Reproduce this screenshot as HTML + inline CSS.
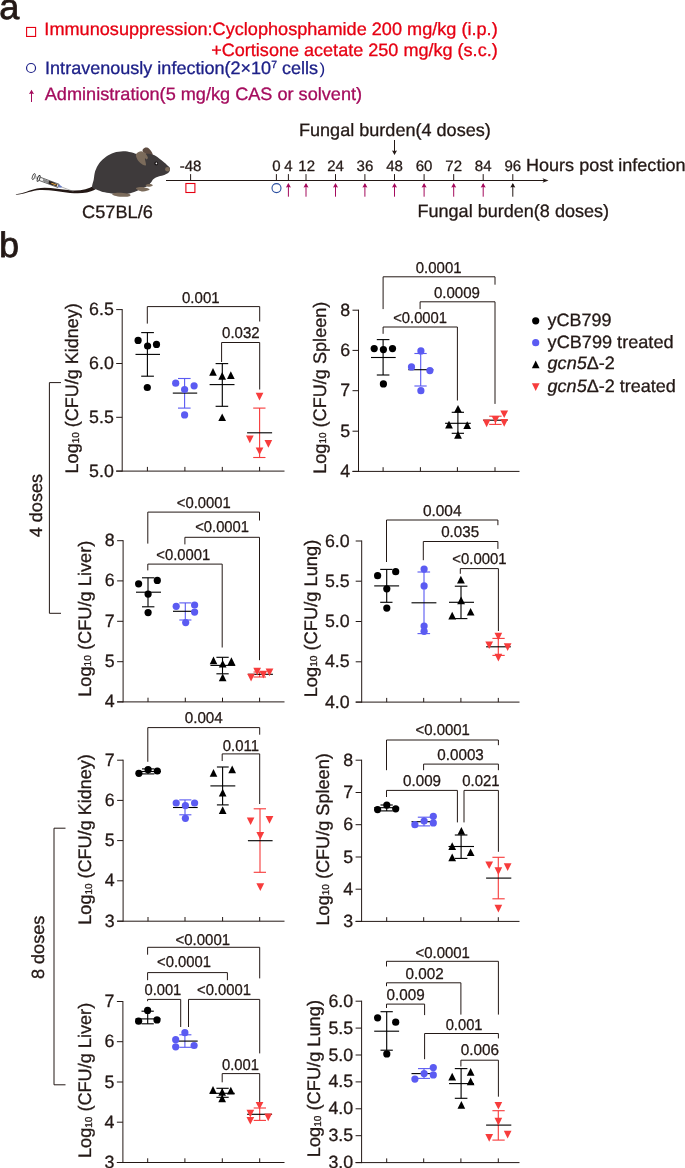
<!DOCTYPE html>
<html lang="en">
<head>
<meta charset="utf-8">
<title>Figure: murine systemic infection model and fungal burden</title>
<style>
html,body{margin:0;padding:0;background:#fff;}
body{width:685px;height:1168px;overflow:hidden;}
svg{display:block;font-family:'Liberation Sans', sans-serif;text-rendering:geometricPrecision;will-change:transform;}
text{stroke-width:0.3px;paint-order:stroke;stroke-linejoin:round;}
</style>
</head>
<body>
<svg width="685" height="1168" viewBox="0 0 685 1168">
<rect x="0" y="0" width="685" height="1168" fill="#ffffff"/>
<g id="panel-a">
<text x="-0.70" y="18.5" font-size="36" fill="#231815" stroke="#231815" style="stroke-width:0.8px">a</text>
<rect x="26.6" y="27.45" width="9.0" height="9.0" fill="none" stroke="#e60012" stroke-width="1.1"/>
<text x="44.39" y="34.8" font-size="17.9" fill="#e60012" stroke="#e60012" textLength="453.3" lengthAdjust="spacingAndGlyphs">Immunosuppression:Cyclophosphamide 200 mg/kg (i.p.)</text>
<text x="211.19" y="56.4" font-size="17.9" fill="#e60012" stroke="#e60012" textLength="286.5" lengthAdjust="spacingAndGlyphs">+Cortisone acetate 250 mg/kg (s.c.)</text>
<circle cx="31.05" cy="68.0" r="4.5" fill="none" stroke="#1d2088" stroke-width="1.2"/>
<text x="45.09" y="74.4" font-size="17.9" fill="#1d2088" stroke="#1d2088" textLength="273.0" lengthAdjust="spacingAndGlyphs">Intravenously infection(2×10<tspan font-size="10.4" dy="-6.0">7</tspan><tspan dy="6.0"> cells</tspan></text>
<text x="319.48" y="74.4" font-size="16" fill="#1d2088" stroke="#1d2088" textLength="5.7" lengthAdjust="spacingAndGlyphs" style="stroke-width:0">)</text>
<line x1="31.50" y1="90.70" x2="31.50" y2="102.00" stroke="#a40b5d" stroke-width="1.0"/>
<path d="M31.50 89.70 L29.00 94.10 L31.50 93.60 L34.00 94.10 Z" fill="#a40b5d"/>
<text x="44.79" y="99.7" font-size="17.9" fill="#a40b5d" stroke="#a40b5d" textLength="317.3" lengthAdjust="spacingAndGlyphs">Administration(5 mg/kg CAS or solvent)</text>
<line x1="166.00" y1="180.50" x2="545.00" y2="180.50" stroke="#231815" stroke-width="1.0"/>
<path d="M548.5 180.5 L542.5 178.3 L544 180.5 L542.5 182.7 Z" fill="#231815"/>
<line x1="190.60" y1="174.10" x2="190.60" y2="180.50" stroke="#231815" stroke-width="1.0"/>
<line x1="276.40" y1="174.10" x2="276.40" y2="180.50" stroke="#231815" stroke-width="1.0"/>
<line x1="288.40" y1="174.10" x2="288.40" y2="180.50" stroke="#231815" stroke-width="1.0"/>
<line x1="306.00" y1="174.10" x2="306.00" y2="180.50" stroke="#231815" stroke-width="1.0"/>
<line x1="335.50" y1="174.10" x2="335.50" y2="180.50" stroke="#231815" stroke-width="1.0"/>
<line x1="364.90" y1="174.10" x2="364.90" y2="180.50" stroke="#231815" stroke-width="1.0"/>
<line x1="394.50" y1="174.10" x2="394.50" y2="180.50" stroke="#231815" stroke-width="1.0"/>
<line x1="424.10" y1="174.10" x2="424.10" y2="180.50" stroke="#231815" stroke-width="1.0"/>
<line x1="453.70" y1="174.10" x2="453.70" y2="180.50" stroke="#231815" stroke-width="1.0"/>
<line x1="483.20" y1="174.10" x2="483.20" y2="180.50" stroke="#231815" stroke-width="1.0"/>
<line x1="512.80" y1="174.10" x2="512.80" y2="180.50" stroke="#231815" stroke-width="1.0"/>
<text x="190.60" y="170.7" font-size="15.0" fill="#231815" stroke="#231815" text-anchor="middle">-48</text>
<text x="276.40" y="170.7" font-size="15.0" fill="#231815" stroke="#231815" text-anchor="middle">0</text>
<text x="288.40" y="170.7" font-size="15.0" fill="#231815" stroke="#231815" text-anchor="middle">4</text>
<text x="306.70" y="170.7" font-size="15.0" fill="#231815" stroke="#231815" text-anchor="middle">12</text>
<text x="335.50" y="170.7" font-size="15.0" fill="#231815" stroke="#231815" text-anchor="middle">24</text>
<text x="364.90" y="170.7" font-size="15.0" fill="#231815" stroke="#231815" text-anchor="middle">36</text>
<text x="394.50" y="170.7" font-size="15.0" fill="#231815" stroke="#231815" text-anchor="middle">48</text>
<text x="424.10" y="170.7" font-size="15.0" fill="#231815" stroke="#231815" text-anchor="middle">60</text>
<text x="453.70" y="170.7" font-size="15.0" fill="#231815" stroke="#231815" text-anchor="middle">72</text>
<text x="483.20" y="170.7" font-size="15.0" fill="#231815" stroke="#231815" text-anchor="middle">84</text>
<text x="512.80" y="170.7" font-size="15.0" fill="#231815" stroke="#231815" text-anchor="middle">96</text>
<text x="526.01" y="170.7" font-size="17.6" fill="#231815" stroke="#231815" textLength="159.5" lengthAdjust="spacingAndGlyphs">Hours post infection</text>
<rect x="185.9" y="183.5" width="9.0" height="9.0" fill="none" stroke="#e60012" stroke-width="1.1"/>
<circle cx="276.5" cy="188.1" r="4.5" fill="none" stroke="#2b4fa0" stroke-width="1.1"/>
<line x1="288.40" y1="184.00" x2="288.40" y2="196.70" stroke="#a40b5d" stroke-width="1.0"/>
<path d="M288.40 183.00 L285.90 187.40 L288.40 186.90 L290.90 187.40 Z" fill="#a40b5d"/>
<line x1="306.00" y1="184.00" x2="306.00" y2="196.70" stroke="#a40b5d" stroke-width="1.0"/>
<path d="M306.00 183.00 L303.50 187.40 L306.00 186.90 L308.50 187.40 Z" fill="#a40b5d"/>
<line x1="335.50" y1="184.00" x2="335.50" y2="196.70" stroke="#a40b5d" stroke-width="1.0"/>
<path d="M335.50 183.00 L333.00 187.40 L335.50 186.90 L338.00 187.40 Z" fill="#a40b5d"/>
<line x1="364.90" y1="184.00" x2="364.90" y2="196.70" stroke="#a40b5d" stroke-width="1.0"/>
<path d="M364.90 183.00 L362.40 187.40 L364.90 186.90 L367.40 187.40 Z" fill="#a40b5d"/>
<line x1="394.50" y1="184.00" x2="394.50" y2="196.70" stroke="#a40b5d" stroke-width="1.0"/>
<path d="M394.50 183.00 L392.00 187.40 L394.50 186.90 L397.00 187.40 Z" fill="#a40b5d"/>
<line x1="424.10" y1="184.00" x2="424.10" y2="196.70" stroke="#a40b5d" stroke-width="1.0"/>
<path d="M424.10 183.00 L421.60 187.40 L424.10 186.90 L426.60 187.40 Z" fill="#a40b5d"/>
<line x1="453.70" y1="184.00" x2="453.70" y2="196.70" stroke="#a40b5d" stroke-width="1.0"/>
<path d="M453.70 183.00 L451.20 187.40 L453.70 186.90 L456.20 187.40 Z" fill="#a40b5d"/>
<line x1="483.20" y1="184.00" x2="483.20" y2="196.70" stroke="#a40b5d" stroke-width="1.0"/>
<path d="M483.20 183.00 L480.70 187.40 L483.20 186.90 L485.70 187.40 Z" fill="#a40b5d"/>
<line x1="512.80" y1="184.00" x2="512.80" y2="196.70" stroke="#231815" stroke-width="1.0"/>
<path d="M512.80 183.00 L510.30 187.40 L512.80 186.90 L515.30 187.40 Z" fill="#231815"/>
<text x="298.99" y="136.3" font-size="17.9" fill="#231815" stroke="#231815" textLength="191.8" lengthAdjust="spacingAndGlyphs">Fungal burden(4 doses)</text>
<line x1="394.50" y1="140.00" x2="394.50" y2="153.90" stroke="#231815" stroke-width="1.0"/>
<path d="M394.50 154.90 L392.00 150.50 L394.50 151.00 L397.00 150.50 Z" fill="#231815"/>
<text x="417.49" y="217.4" font-size="17.9" fill="#231815" stroke="#231815" textLength="191.6" lengthAdjust="spacingAndGlyphs">Fungal burden(8 doses)</text>
<text x="82.09" y="218.1" font-size="17.9" fill="#231815" stroke="#231815" textLength="70.7" lengthAdjust="spacingAndGlyphs">C57BL/6</text>
<g id="mouse">
<path d="M15.9 194.2 C24 193.4 29 190.2 37 188.5 C47 186.6 58 189.3 70 190.3 C80 191.0 88 189.6 93.8 185.8 L95.0 189.8 C88 193.2 80 194.0 70 192.9 C58 191.6 47 189.2 37 190.3 C29 191.5 24 194.4 15.9 194.8 Z" fill="#231815"/>
<g transform="translate(33.2 176.4) rotate(20.5)"><ellipse cx="0.5" cy="0" rx="1.2" ry="3.2" fill="#fff" stroke="#333" stroke-width="0.8"/><rect x="1.3" y="-0.7" width="4.2" height="1.4" fill="#ddd" stroke="#666" stroke-width="0.4"/><ellipse cx="5.8" cy="0" rx="1.1" ry="3.1" fill="#fff" stroke="#2a2a2a" stroke-width="0.9"/><rect x="7.0" y="-1.7" width="20.0" height="3.4" fill="#f4f4f4" stroke="#3a3a3a" stroke-width="0.7"/><rect x="10.5" y="-1.3" width="6.0" height="2.6" fill="#8a8a8a"/><rect x="16.5" y="-1.5" width="5.0" height="3.0" fill="#2b2320"/><rect x="18.0" y="-1.2" width="7.5" height="2.4" fill="#2b2320"/><rect x="19.5" y="-0.5" width="5.5" height="1.0" fill="#e8a33a"/><path d="M27 -1.5 L30.5 -0.6 L30.5 0.6 L27 1.5 Z" fill="#6b7fc4"/><line x1="30.5" y1="0" x2="43" y2="0" stroke="#777" stroke-width="0.5"/></g>
<path d="M142.5 150.5 C142.5 149.6 143.5 148.3 144.4 147.9 C145.3 147.4 146.8 147.3 147.8 147.7 C148.9 148.2 149.9 149.3 150.7 150.5 C151.5 151.7 153.0 154.0 152.8 154.7 C152.6 155.4 150.7 154.9 149.4 154.7 C148.0 154.5 145.9 154.1 144.8 153.4 C143.6 152.7 142.6 151.4 142.5 150.5 Z" fill="#5d4b41"/>
<path d="M92.2 187.6 C91.5 185.8 93.2 182.4 93.7 179.7 C94.2 176.9 94.3 173.9 95.2 171.1 C96.2 168.4 97.4 165.7 99.2 163.2 C101.0 160.8 103.6 158.4 106.0 156.7 C108.5 154.9 111.1 153.6 113.9 152.7 C116.8 151.8 120.3 151.4 123.1 151.3 C125.9 151.2 128.4 151.8 131.0 152.3 C133.6 152.9 136.2 154.5 138.9 154.7 C141.5 154.9 144.2 153.6 146.8 153.7 C149.3 153.7 151.6 153.9 154.0 155.0 C156.4 156.0 159.1 158.3 161.2 160.0 C163.3 161.6 165.3 163.3 166.7 164.7 C168.2 166.1 169.5 166.9 169.9 168.1 C170.3 169.3 169.9 171.0 169.1 172.1 C168.3 173.1 166.6 173.9 164.9 174.7 C163.1 175.4 160.5 175.8 158.6 176.5 C156.7 177.2 154.9 177.9 153.6 178.9 C152.3 179.9 151.9 181.4 151.0 182.6 C150.0 183.7 149.2 185.1 147.8 186.0 C146.4 186.9 144.6 187.3 142.8 188.1 C141.1 188.9 139.3 189.9 137.3 190.7 C135.3 191.5 133.1 192.5 131.0 193.1 C128.8 193.7 127.3 194.3 124.4 194.4 C121.6 194.5 117.2 194.1 113.9 193.7 C110.6 193.4 107.3 192.9 104.7 192.3 C102.1 191.7 100.2 191.0 98.1 190.2 C96.1 189.4 93.0 189.3 92.2 187.6 Z" fill="#3e3a3b"/>
<path d="M136.5 153.4 C137.3 152.5 139.7 151.3 141.2 151.3 C142.7 151.3 144.3 152.4 145.4 153.4 C146.5 154.4 147.6 156.3 147.8 157.3 C148.0 158.3 147.2 159.3 146.8 159.4 C146.3 159.6 145.0 157.5 144.9 158.4 C144.8 159.3 146.3 163.9 146.0 165.0 C145.6 166.0 144.0 165.3 142.8 164.7 C141.6 164.1 139.7 162.6 138.6 161.3 C137.5 159.9 136.6 158.0 136.2 156.7 C135.9 155.4 135.7 154.3 136.5 153.4 Z" fill="#7b6b5b"/>
<path d="M112.3 193.7 C113.1 193.2 116.7 192.8 119.2 192.8 C121.6 192.8 125.2 193.2 127.0 193.6 C128.9 193.9 130.2 194.4 130.5 194.9 C130.7 195.4 129.8 196.2 128.4 196.5 C126.9 196.8 124.1 196.9 121.8 196.8 C119.5 196.6 116.1 196.2 114.6 195.7 C113.0 195.2 111.6 194.2 112.3 193.7 Z" fill="#7b6b5b"/>
<path d="M136.0 188.1 C136.5 187.6 139.7 187.0 141.5 187.0 C143.3 187.0 145.4 187.7 146.8 188.1 C148.1 188.5 149.6 189.0 149.6 189.4 C149.6 189.8 147.9 190.4 146.8 190.7 C145.6 191.1 144.2 191.6 142.8 191.5 C141.4 191.4 139.4 190.8 138.2 190.2 C137.1 189.6 135.4 188.6 136.0 188.1 Z" fill="#7b6b5b"/>
<path d="M145.7 184.9 C146.1 184.5 148.2 183.9 149.4 183.9 C150.6 183.9 152.6 184.5 152.8 184.9 C153.0 185.4 151.6 186.2 150.7 186.5 C149.8 186.8 148.1 186.8 147.3 186.5 C146.4 186.2 145.4 185.4 145.7 184.9 Z" fill="#7b6b5b"/>
<ellipse cx="167.5" cy="169.2" rx="2.4" ry="2.2" fill="#7b6b5b"/>
<circle cx="156.2" cy="163.5" r="1.9" fill="#1c1718"/>
<circle cx="156.4" cy="163.4" r="0.8" fill="#fff"/>
</g>
</g>
<g id="panel-b">
<text x="-0.80" y="256.8" font-size="35.5" fill="#231815" stroke="#231815" style="stroke-width:0.8px">b</text>
<g id="p1">
<line x1="147.40" y1="332.60" x2="147.40" y2="376.20" stroke="#000" stroke-width="1.12"/>
<line x1="141.20" y1="332.60" x2="153.90" y2="332.60" stroke="#000" stroke-width="1.12"/>
<line x1="141.20" y1="376.20" x2="153.90" y2="376.20" stroke="#000" stroke-width="1.12"/>
<line x1="135.50" y1="354.40" x2="160.00" y2="354.40" stroke="#000" stroke-width="1.12"/>
<circle cx="138.1" cy="340.4" r="3.6" fill="#000"/>
<circle cx="147.6" cy="346.0" r="3.6" fill="#000"/>
<circle cx="156.5" cy="344.4" r="3.6" fill="#000"/>
<circle cx="147.3" cy="387.5" r="3.6" fill="#000"/>
<line x1="184.60" y1="378.50" x2="184.60" y2="408.10" stroke="#5b5bf2" stroke-width="1.12"/>
<line x1="178.00" y1="378.50" x2="190.60" y2="378.50" stroke="#5b5bf2" stroke-width="1.12"/>
<line x1="178.00" y1="408.10" x2="190.60" y2="408.10" stroke="#5b5bf2" stroke-width="1.12"/>
<line x1="172.80" y1="393.10" x2="197.20" y2="393.10" stroke="#000" stroke-width="1.12"/>
<circle cx="175.7" cy="383.2" r="3.6" fill="#5b5bf2"/>
<circle cx="184.6" cy="389.5" r="3.6" fill="#5b5bf2"/>
<circle cx="194.1" cy="385.8" r="3.6" fill="#5b5bf2"/>
<circle cx="184.6" cy="414.9" r="3.6" fill="#5b5bf2"/>
<line x1="222.30" y1="363.60" x2="222.30" y2="406.30" stroke="#000" stroke-width="1.12"/>
<line x1="215.60" y1="363.60" x2="228.20" y2="363.60" stroke="#000" stroke-width="1.12"/>
<line x1="215.60" y1="406.30" x2="228.20" y2="406.30" stroke="#000" stroke-width="1.12"/>
<line x1="209.60" y1="384.60" x2="234.50" y2="384.60" stroke="#000" stroke-width="1.12"/>
<path d="M213.0 368.0 L216.8 375.7 L209.2 375.7 Z" fill="#000"/>
<path d="M222.2 372.0 L226.0 379.7 L218.3 379.7 Z" fill="#000"/>
<path d="M230.8 371.2 L234.7 378.9 L227.0 378.9 Z" fill="#000"/>
<path d="M222.2 413.4 L226.0 421.1 L218.3 421.1 Z" fill="#000"/>
<line x1="259.60" y1="408.10" x2="259.60" y2="457.50" stroke="#f73c3c" stroke-width="1.12"/>
<line x1="253.20" y1="408.10" x2="265.50" y2="408.10" stroke="#f73c3c" stroke-width="1.12"/>
<line x1="253.20" y1="457.50" x2="265.50" y2="457.50" stroke="#f73c3c" stroke-width="1.12"/>
<line x1="247.10" y1="432.80" x2="272.10" y2="432.80" stroke="#000" stroke-width="1.12"/>
<path d="M259.5 400.5 L263.4 392.8 L255.7 392.8 Z" fill="#f73c3c"/>
<path d="M249.8 443.3 L253.7 435.6 L246.0 435.6 Z" fill="#f73c3c"/>
<path d="M268.4 447.8 L272.2 440.1 L264.5 440.1 Z" fill="#f73c3c"/>
<path d="M259.5 455.1 L263.4 447.4 L255.7 447.4 Z" fill="#f73c3c"/>
<line x1="122.20" y1="309.10" x2="122.20" y2="471.60" stroke="#231815" stroke-width="1.0"/>
<line x1="116.20" y1="471.10" x2="284.50" y2="471.10" stroke="#231815" stroke-width="1.0"/>
<line x1="116.20" y1="309.60" x2="122.20" y2="309.60" stroke="#231815" stroke-width="1.0"/>
<text x="113.80" y="315.1" font-size="17.8" fill="#231815" stroke="#231815" text-anchor="end">6.5</text>
<line x1="116.20" y1="363.50" x2="122.20" y2="363.50" stroke="#231815" stroke-width="1.0"/>
<text x="113.80" y="369.0" font-size="17.8" fill="#231815" stroke="#231815" text-anchor="end">6.0</text>
<line x1="116.20" y1="417.30" x2="122.20" y2="417.30" stroke="#231815" stroke-width="1.0"/>
<text x="113.80" y="422.8" font-size="17.8" fill="#231815" stroke="#231815" text-anchor="end">5.5</text>
<line x1="116.20" y1="471.10" x2="122.20" y2="471.10" stroke="#231815" stroke-width="1.0"/>
<text x="113.80" y="476.6" font-size="17.8" fill="#231815" stroke="#231815" text-anchor="end">5.0</text>
<line x1="147.40" y1="466.90" x2="147.40" y2="471.10" stroke="#231815" stroke-width="1.0"/>
<line x1="184.90" y1="466.90" x2="184.90" y2="471.10" stroke="#231815" stroke-width="1.0"/>
<line x1="222.30" y1="466.90" x2="222.30" y2="471.10" stroke="#231815" stroke-width="1.0"/>
<line x1="259.60" y1="466.90" x2="259.60" y2="471.10" stroke="#231815" stroke-width="1.0"/>
<text transform="translate(77.8 472.6) rotate(-90)" x="-0.81" y="0" font-size="18.1" fill="#231815" stroke="#231815" textLength="170.2" lengthAdjust="spacingAndGlyphs">Log<tspan font-size="10" dy="0.7">10</tspan><tspan dy="-0.7"> (CFU/g Kidney)</tspan></text>
<path d="M147.3 323.6 V306.6 H259.7 V321.5" stroke="#231815" stroke-width="1.0" fill="none"/>
<text x="182.00" y="303.1" font-size="15.6" fill="#231815" stroke="#231815" textLength="37.6" lengthAdjust="spacingAndGlyphs">0.001</text>
<path d="M221.6 362.0 V342.5 H259.7 V389.5" stroke="#231815" stroke-width="1.0" fill="none"/>
<text x="222.10" y="338.0" font-size="15.6" fill="#231815" stroke="#231815" textLength="37.5" lengthAdjust="spacingAndGlyphs">0.032</text>
</g>
<g id="p2">
<line x1="383.10" y1="339.60" x2="383.10" y2="375.00" stroke="#000" stroke-width="1.12"/>
<line x1="376.80" y1="339.60" x2="389.40" y2="339.60" stroke="#000" stroke-width="1.12"/>
<line x1="376.80" y1="375.00" x2="389.40" y2="375.00" stroke="#000" stroke-width="1.12"/>
<line x1="371.00" y1="357.50" x2="395.70" y2="357.50" stroke="#000" stroke-width="1.12"/>
<circle cx="374.2" cy="348.6" r="3.6" fill="#000"/>
<circle cx="383.4" cy="349.6" r="3.6" fill="#000"/>
<circle cx="392.5" cy="348.6" r="3.6" fill="#000"/>
<circle cx="383.4" cy="383.9" r="3.6" fill="#000"/>
<line x1="420.70" y1="353.50" x2="420.70" y2="386.00" stroke="#5b5bf2" stroke-width="1.12"/>
<line x1="414.40" y1="353.50" x2="426.70" y2="353.50" stroke="#5b5bf2" stroke-width="1.12"/>
<line x1="414.40" y1="386.00" x2="426.70" y2="386.00" stroke="#5b5bf2" stroke-width="1.12"/>
<line x1="408.30" y1="369.70" x2="433.30" y2="369.70" stroke="#000" stroke-width="1.12"/>
<circle cx="420.9" cy="350.9" r="3.6" fill="#5b5bf2"/>
<circle cx="411.5" cy="366.9" r="3.6" fill="#5b5bf2"/>
<circle cx="429.9" cy="370.6" r="3.6" fill="#5b5bf2"/>
<circle cx="420.9" cy="390.7" r="3.6" fill="#5b5bf2"/>
<line x1="457.90" y1="412.30" x2="457.90" y2="433.30" stroke="#000" stroke-width="1.12"/>
<line x1="451.70" y1="412.30" x2="464.00" y2="412.30" stroke="#000" stroke-width="1.12"/>
<line x1="451.70" y1="433.30" x2="464.00" y2="433.30" stroke="#000" stroke-width="1.12"/>
<line x1="445.10" y1="423.30" x2="470.80" y2="423.30" stroke="#000" stroke-width="1.12"/>
<path d="M458.0 404.9 L461.9 412.6 L454.1 412.6 Z" fill="#000"/>
<path d="M449.0 420.7 L452.9 428.4 L445.1 428.4 Z" fill="#000"/>
<path d="M467.2 421.2 L471.1 428.9 L463.3 428.9 Z" fill="#000"/>
<path d="M458.0 431.0 L461.9 438.7 L454.1 438.7 Z" fill="#000"/>
<line x1="495.40" y1="416.20" x2="495.40" y2="424.40" stroke="#f73c3c" stroke-width="1.12"/>
<line x1="489.20" y1="416.20" x2="501.60" y2="416.20" stroke="#f73c3c" stroke-width="1.12"/>
<line x1="489.20" y1="424.40" x2="501.60" y2="424.40" stroke="#f73c3c" stroke-width="1.12"/>
<line x1="483.20" y1="420.20" x2="507.60" y2="420.20" stroke="#000" stroke-width="1.12"/>
<path d="M504.2 418.1 L508.1 410.4 L500.3 410.4 Z" fill="#f73c3c"/>
<path d="M495.5 423.6 L499.4 415.9 L491.6 415.9 Z" fill="#f73c3c"/>
<path d="M486.6 427.3 L490.5 419.6 L482.8 419.6 Z" fill="#f73c3c"/>
<path d="M504.2 426.7 L508.1 419.0 L500.3 419.0 Z" fill="#f73c3c"/>
<line x1="358.50" y1="309.70" x2="358.50" y2="471.90" stroke="#231815" stroke-width="1.0"/>
<line x1="352.50" y1="471.40" x2="519.50" y2="471.40" stroke="#231815" stroke-width="1.0"/>
<line x1="352.50" y1="310.20" x2="358.50" y2="310.20" stroke="#231815" stroke-width="1.0"/>
<text x="350.10" y="315.7" font-size="17.8" fill="#231815" stroke="#231815" text-anchor="end">8</text>
<line x1="352.50" y1="350.40" x2="358.50" y2="350.40" stroke="#231815" stroke-width="1.0"/>
<text x="350.10" y="355.9" font-size="17.8" fill="#231815" stroke="#231815" text-anchor="end">6</text>
<line x1="352.50" y1="390.70" x2="358.50" y2="390.70" stroke="#231815" stroke-width="1.0"/>
<text x="350.10" y="396.2" font-size="17.8" fill="#231815" stroke="#231815" text-anchor="end">7</text>
<line x1="352.50" y1="431.20" x2="358.50" y2="431.20" stroke="#231815" stroke-width="1.0"/>
<text x="350.10" y="436.7" font-size="17.8" fill="#231815" stroke="#231815" text-anchor="end">5</text>
<line x1="352.50" y1="471.40" x2="358.50" y2="471.40" stroke="#231815" stroke-width="1.0"/>
<text x="350.10" y="476.9" font-size="17.8" fill="#231815" stroke="#231815" text-anchor="end">4</text>
<line x1="383.10" y1="467.20" x2="383.10" y2="471.40" stroke="#231815" stroke-width="1.0"/>
<line x1="420.40" y1="467.20" x2="420.40" y2="471.40" stroke="#231815" stroke-width="1.0"/>
<line x1="457.40" y1="467.20" x2="457.40" y2="471.40" stroke="#231815" stroke-width="1.0"/>
<line x1="495.00" y1="467.20" x2="495.00" y2="471.40" stroke="#231815" stroke-width="1.0"/>
<text transform="translate(325.7 473.0) rotate(-90)" x="-0.81" y="0" font-size="18.1" fill="#231815" stroke="#231815" textLength="172.2" lengthAdjust="spacingAndGlyphs">Log<tspan font-size="10" dy="0.7">10</tspan><tspan dy="-0.7"> (CFU/g Spleen)</tspan></text>
<path d="M383.1 309.1 V276.8 H495.0 V284.7" stroke="#231815" stroke-width="1.0" fill="none"/>
<text x="415.80" y="272.9" font-size="15.6" fill="#231815" stroke="#231815" textLength="45.8" lengthAdjust="spacingAndGlyphs">0.0001</text>
<path d="M420.1 309.1 V301.8 H495.0 V403.9" stroke="#231815" stroke-width="1.0" fill="none"/>
<text x="433.90" y="298.4" font-size="15.6" fill="#231815" stroke="#231815" textLength="46.0" lengthAdjust="spacingAndGlyphs">0.0009</text>
<path d="M383.1 333.8 V327.0 H457.4 V400.5" stroke="#231815" stroke-width="1.0" fill="none"/>
<text x="393.20" y="322.8" font-size="15.6" fill="#231815" stroke="#231815" textLength="53.8" lengthAdjust="spacingAndGlyphs">&lt;0.0001</text>
</g>
<g id="p3">
<line x1="148.00" y1="577.80" x2="148.00" y2="606.80" stroke="#000" stroke-width="1.12"/>
<line x1="142.00" y1="577.80" x2="154.40" y2="577.80" stroke="#000" stroke-width="1.12"/>
<line x1="142.00" y1="606.80" x2="154.40" y2="606.80" stroke="#000" stroke-width="1.12"/>
<line x1="136.00" y1="592.20" x2="161.00" y2="592.20" stroke="#000" stroke-width="1.12"/>
<circle cx="138.6" cy="583.8" r="3.6" fill="#000"/>
<circle cx="157.3" cy="580.4" r="3.6" fill="#000"/>
<circle cx="148.1" cy="594.1" r="3.6" fill="#000"/>
<circle cx="148.1" cy="612.6" r="3.6" fill="#000"/>
<line x1="185.30" y1="602.90" x2="185.30" y2="620.00" stroke="#5b5bf2" stroke-width="1.12"/>
<line x1="179.30" y1="602.90" x2="191.40" y2="602.90" stroke="#5b5bf2" stroke-width="1.12"/>
<line x1="179.30" y1="620.00" x2="191.40" y2="620.00" stroke="#5b5bf2" stroke-width="1.12"/>
<line x1="173.00" y1="611.30" x2="197.70" y2="611.30" stroke="#000" stroke-width="1.12"/>
<circle cx="176.2" cy="606.3" r="3.6" fill="#5b5bf2"/>
<circle cx="194.6" cy="605.0" r="3.6" fill="#5b5bf2"/>
<circle cx="194.6" cy="612.1" r="3.6" fill="#5b5bf2"/>
<circle cx="185.7" cy="622.6" r="3.6" fill="#5b5bf2"/>
<line x1="222.50" y1="657.30" x2="222.50" y2="673.80" stroke="#000" stroke-width="1.12"/>
<line x1="216.40" y1="657.30" x2="228.70" y2="657.30" stroke="#000" stroke-width="1.12"/>
<line x1="216.40" y1="673.80" x2="228.70" y2="673.80" stroke="#000" stroke-width="1.12"/>
<line x1="210.40" y1="665.40" x2="235.30" y2="665.40" stroke="#000" stroke-width="1.12"/>
<path d="M213.5 656.5 L217.3 664.2 L209.7 664.2 Z" fill="#000"/>
<path d="M231.4 657.3 L235.2 665.0 L227.6 665.0 Z" fill="#000"/>
<path d="M222.7 659.9 L226.5 667.6 L218.8 667.6 Z" fill="#000"/>
<path d="M222.7 673.6 L226.5 681.3 L218.8 681.3 Z" fill="#000"/>
<line x1="259.60" y1="672.00" x2="259.60" y2="677.00" stroke="#f73c3c" stroke-width="1.12"/>
<line x1="253.50" y1="672.00" x2="266.00" y2="672.00" stroke="#f73c3c" stroke-width="1.12"/>
<line x1="253.50" y1="677.00" x2="266.00" y2="677.00" stroke="#f73c3c" stroke-width="1.12"/>
<line x1="247.90" y1="674.30" x2="272.90" y2="674.30" stroke="#000" stroke-width="1.12"/>
<path d="M257.1 675.4 L261.0 667.7 L253.3 667.7 Z" fill="#f73c3c"/>
<path d="M269.5 676.2 L273.4 668.5 L265.6 668.5 Z" fill="#f73c3c"/>
<path d="M263.4 678.5 L267.2 670.8 L259.5 670.8 Z" fill="#f73c3c"/>
<path d="M251.1 681.4 L254.9 673.7 L247.2 673.7 Z" fill="#f73c3c"/>
<line x1="123.10" y1="540.20" x2="123.10" y2="702.40" stroke="#231815" stroke-width="1.0"/>
<line x1="117.10" y1="701.90" x2="284.50" y2="701.90" stroke="#231815" stroke-width="1.0"/>
<line x1="117.10" y1="540.70" x2="123.10" y2="540.70" stroke="#231815" stroke-width="1.0"/>
<text x="114.70" y="546.2" font-size="17.8" fill="#231815" stroke="#231815" text-anchor="end">8</text>
<line x1="117.10" y1="580.90" x2="123.10" y2="580.90" stroke="#231815" stroke-width="1.0"/>
<text x="114.70" y="586.4" font-size="17.8" fill="#231815" stroke="#231815" text-anchor="end">6</text>
<line x1="117.10" y1="621.30" x2="123.10" y2="621.30" stroke="#231815" stroke-width="1.0"/>
<text x="114.70" y="626.8" font-size="17.8" fill="#231815" stroke="#231815" text-anchor="end">7</text>
<line x1="117.10" y1="661.70" x2="123.10" y2="661.70" stroke="#231815" stroke-width="1.0"/>
<text x="114.70" y="667.2" font-size="17.8" fill="#231815" stroke="#231815" text-anchor="end">5</text>
<line x1="117.10" y1="701.90" x2="123.10" y2="701.90" stroke="#231815" stroke-width="1.0"/>
<text x="114.70" y="707.4" font-size="17.8" fill="#231815" stroke="#231815" text-anchor="end">4</text>
<line x1="148.00" y1="697.70" x2="148.00" y2="701.90" stroke="#231815" stroke-width="1.0"/>
<line x1="185.30" y1="697.70" x2="185.30" y2="701.90" stroke="#231815" stroke-width="1.0"/>
<line x1="222.50" y1="697.70" x2="222.50" y2="701.90" stroke="#231815" stroke-width="1.0"/>
<line x1="259.60" y1="697.70" x2="259.60" y2="701.90" stroke="#231815" stroke-width="1.0"/>
<text transform="translate(90.6 696.0) rotate(-90)" x="-0.81" y="0" font-size="18.1" fill="#231815" stroke="#231815" textLength="156.2" lengthAdjust="spacingAndGlyphs">Log<tspan font-size="10" dy="0.7">10</tspan><tspan dy="-0.7"> (CFU/g Liver)</tspan></text>
<path d="M147.8 543.6 V512.1 H259.5 V520.5" stroke="#231815" stroke-width="1.0" fill="none"/>
<text x="176.80" y="507.6" font-size="15.6" fill="#231815" stroke="#231815" textLength="53.9" lengthAdjust="spacingAndGlyphs">&lt;0.0001</text>
<path d="M184.9 544.4 V537.3 H259.5 V660.2" stroke="#231815" stroke-width="1.0" fill="none"/>
<text x="195.20" y="532.0" font-size="15.6" fill="#231815" stroke="#231815" textLength="53.8" lengthAdjust="spacingAndGlyphs">&lt;0.0001</text>
<path d="M147.8 570.4 V564.1 H222.2 V647.5" stroke="#231815" stroke-width="1.0" fill="none"/>
<text x="156.30" y="559.9" font-size="15.6" fill="#231815" stroke="#231815" textLength="53.9" lengthAdjust="spacingAndGlyphs">&lt;0.0001</text>
</g>
<g id="p4">
<line x1="386.70" y1="569.40" x2="386.70" y2="602.30" stroke="#000" stroke-width="1.12"/>
<line x1="380.20" y1="569.40" x2="392.50" y2="569.40" stroke="#000" stroke-width="1.12"/>
<line x1="380.20" y1="602.30" x2="392.50" y2="602.30" stroke="#000" stroke-width="1.12"/>
<line x1="374.20" y1="585.90" x2="399.10" y2="585.90" stroke="#000" stroke-width="1.12"/>
<circle cx="377.6" cy="575.7" r="3.6" fill="#000"/>
<circle cx="395.7" cy="571.7" r="3.6" fill="#000"/>
<circle cx="386.8" cy="588.8" r="3.6" fill="#000"/>
<circle cx="386.8" cy="608.1" r="3.6" fill="#000"/>
<line x1="424.00" y1="572.00" x2="424.00" y2="633.60" stroke="#5b5bf2" stroke-width="1.12"/>
<line x1="417.50" y1="572.00" x2="430.10" y2="572.00" stroke="#5b5bf2" stroke-width="1.12"/>
<line x1="417.50" y1="633.60" x2="430.10" y2="633.60" stroke="#5b5bf2" stroke-width="1.12"/>
<line x1="411.50" y1="602.80" x2="436.40" y2="602.80" stroke="#000" stroke-width="1.12"/>
<circle cx="424.1" cy="569.1" r="3.6" fill="#5b5bf2"/>
<circle cx="424.1" cy="585.9" r="3.6" fill="#5b5bf2"/>
<circle cx="424.1" cy="626.0" r="3.6" fill="#5b5bf2"/>
<circle cx="424.1" cy="631.3" r="3.6" fill="#5b5bf2"/>
<line x1="461.00" y1="586.20" x2="461.00" y2="618.60" stroke="#000" stroke-width="1.12"/>
<line x1="454.80" y1="586.20" x2="467.40" y2="586.20" stroke="#000" stroke-width="1.12"/>
<line x1="454.80" y1="618.60" x2="467.40" y2="618.60" stroke="#000" stroke-width="1.12"/>
<line x1="449.00" y1="602.30" x2="474.00" y2="602.30" stroke="#000" stroke-width="1.12"/>
<path d="M460.9 575.7 L464.8 583.4 L457.0 583.4 Z" fill="#000"/>
<path d="M461.1 596.6 L465.0 604.3 L457.2 604.3 Z" fill="#000"/>
<path d="M470.6 607.9 L474.5 615.6 L466.8 615.6 Z" fill="#000"/>
<path d="M452.2 611.8 L456.1 619.5 L448.3 619.5 Z" fill="#000"/>
<line x1="498.30" y1="638.40" x2="498.30" y2="655.40" stroke="#f73c3c" stroke-width="1.12"/>
<line x1="492.40" y1="638.40" x2="504.70" y2="638.40" stroke="#f73c3c" stroke-width="1.12"/>
<line x1="492.40" y1="655.40" x2="504.70" y2="655.40" stroke="#f73c3c" stroke-width="1.12"/>
<line x1="486.10" y1="646.80" x2="510.80" y2="646.80" stroke="#000" stroke-width="1.12"/>
<path d="M498.4 640.5 L502.2 632.8 L494.5 632.8 Z" fill="#f73c3c"/>
<path d="M489.2 649.1 L493.1 641.4 L485.3 641.4 Z" fill="#f73c3c"/>
<path d="M507.6 651.0 L511.5 643.3 L503.8 643.3 Z" fill="#f73c3c"/>
<path d="M498.4 661.5 L502.2 653.8 L494.5 653.8 Z" fill="#f73c3c"/>
<line x1="361.70" y1="540.50" x2="361.70" y2="702.60" stroke="#231815" stroke-width="1.0"/>
<line x1="355.70" y1="702.10" x2="519.50" y2="702.10" stroke="#231815" stroke-width="1.0"/>
<line x1="355.70" y1="541.00" x2="361.70" y2="541.00" stroke="#231815" stroke-width="1.0"/>
<text x="349.70" y="546.5" font-size="17.8" fill="#231815" stroke="#231815" text-anchor="end">6.0</text>
<line x1="355.70" y1="581.20" x2="361.70" y2="581.20" stroke="#231815" stroke-width="1.0"/>
<text x="349.70" y="586.7" font-size="17.8" fill="#231815" stroke="#231815" text-anchor="end">5.5</text>
<line x1="355.70" y1="621.50" x2="361.70" y2="621.50" stroke="#231815" stroke-width="1.0"/>
<text x="349.70" y="627.0" font-size="17.8" fill="#231815" stroke="#231815" text-anchor="end">5.0</text>
<line x1="355.70" y1="661.80" x2="361.70" y2="661.80" stroke="#231815" stroke-width="1.0"/>
<text x="349.70" y="667.3" font-size="17.8" fill="#231815" stroke="#231815" text-anchor="end">4.5</text>
<line x1="355.70" y1="702.10" x2="361.70" y2="702.10" stroke="#231815" stroke-width="1.0"/>
<text x="349.70" y="707.6" font-size="17.8" fill="#231815" stroke="#231815" text-anchor="end">4.0</text>
<line x1="386.70" y1="697.90" x2="386.70" y2="702.10" stroke="#231815" stroke-width="1.0"/>
<line x1="423.70" y1="697.90" x2="423.70" y2="702.10" stroke="#231815" stroke-width="1.0"/>
<line x1="460.90" y1="697.90" x2="460.90" y2="702.10" stroke="#231815" stroke-width="1.0"/>
<line x1="498.30" y1="697.90" x2="498.30" y2="702.10" stroke="#231815" stroke-width="1.0"/>
<text transform="translate(316.7 696.5) rotate(-90)" x="-0.81" y="0" font-size="18.1" fill="#231815" stroke="#231815" textLength="157.6" lengthAdjust="spacingAndGlyphs">Log<tspan font-size="10" dy="0.7">10</tspan><tspan dy="-0.7"> (CFU/g Lung)</tspan></text>
<path d="M386.5 562.0 V520.0 H497.9 V525.2" stroke="#231815" stroke-width="1.0" fill="none"/>
<text x="422.90" y="516.0" font-size="15.6" fill="#231815" stroke="#231815" textLength="38.6" lengthAdjust="spacingAndGlyphs">0.004</text>
<path d="M423.3 560.2 V541.5 H497.9 V548.9" stroke="#231815" stroke-width="1.0" fill="none"/>
<text x="441.20" y="537.0" font-size="15.6" fill="#231815" stroke="#231815" textLength="37.9" lengthAdjust="spacingAndGlyphs">0.035</text>
<path d="M460.3 573.8 V568.6 H498.4 V631.0" stroke="#231815" stroke-width="1.0" fill="none"/>
<text x="452.30" y="563.8" font-size="15.6" fill="#231815" stroke="#231815" textLength="54.3" lengthAdjust="spacingAndGlyphs">&lt;0.0001</text>
</g>
<g id="p5">
<line x1="148.00" y1="768.90" x2="148.00" y2="773.90" stroke="#000" stroke-width="1.12"/>
<line x1="142.00" y1="768.90" x2="154.40" y2="768.90" stroke="#000" stroke-width="1.12"/>
<line x1="142.00" y1="773.90" x2="154.40" y2="773.90" stroke="#000" stroke-width="1.12"/>
<line x1="136.00" y1="771.50" x2="161.00" y2="771.50" stroke="#000" stroke-width="1.12"/>
<circle cx="138.9" cy="773.3" r="3.6" fill="#000"/>
<circle cx="148.1" cy="769.7" r="3.6" fill="#000"/>
<circle cx="157.3" cy="771.0" r="3.6" fill="#000"/>
<line x1="185.00" y1="799.90" x2="185.00" y2="814.80" stroke="#5b5bf2" stroke-width="1.12"/>
<line x1="179.30" y1="799.90" x2="191.40" y2="799.90" stroke="#5b5bf2" stroke-width="1.12"/>
<line x1="179.30" y1="814.80" x2="191.40" y2="814.80" stroke="#5b5bf2" stroke-width="1.12"/>
<line x1="173.00" y1="807.50" x2="197.70" y2="807.50" stroke="#000" stroke-width="1.12"/>
<circle cx="176.2" cy="803.0" r="3.6" fill="#5b5bf2"/>
<circle cx="185.4" cy="805.6" r="3.6" fill="#5b5bf2"/>
<circle cx="194.6" cy="803.0" r="3.6" fill="#5b5bf2"/>
<circle cx="185.4" cy="818.3" r="3.6" fill="#5b5bf2"/>
<line x1="222.60" y1="767.00" x2="222.60" y2="804.90" stroke="#000" stroke-width="1.12"/>
<line x1="216.90" y1="767.00" x2="228.70" y2="767.00" stroke="#000" stroke-width="1.12"/>
<line x1="216.90" y1="804.90" x2="228.70" y2="804.90" stroke="#000" stroke-width="1.12"/>
<line x1="210.40" y1="785.90" x2="235.30" y2="785.90" stroke="#000" stroke-width="1.12"/>
<path d="M213.5 769.1 L217.3 776.8 L209.7 776.8 Z" fill="#000"/>
<path d="M232.2 765.5 L236.0 773.2 L228.3 773.2 Z" fill="#000"/>
<path d="M222.7 788.8 L226.5 796.5 L218.8 796.5 Z" fill="#000"/>
<path d="M222.7 806.2 L226.5 813.9 L218.8 813.9 Z" fill="#000"/>
<line x1="260.00" y1="808.80" x2="260.00" y2="872.30" stroke="#f73c3c" stroke-width="1.12"/>
<line x1="253.70" y1="808.80" x2="266.00" y2="808.80" stroke="#f73c3c" stroke-width="1.12"/>
<line x1="253.70" y1="872.30" x2="266.00" y2="872.30" stroke="#f73c3c" stroke-width="1.12"/>
<line x1="247.90" y1="840.70" x2="272.60" y2="840.70" stroke="#000" stroke-width="1.12"/>
<path d="M250.6 825.1 L254.4 817.4 L246.8 817.4 Z" fill="#f73c3c"/>
<path d="M269.5 823.8 L273.4 816.1 L265.6 816.1 Z" fill="#f73c3c"/>
<path d="M260.3 839.7 L264.2 832.0 L256.4 832.0 Z" fill="#f73c3c"/>
<path d="M260.3 890.9 L264.2 883.2 L256.4 883.2 Z" fill="#f73c3c"/>
<line x1="123.10" y1="759.70" x2="123.10" y2="921.70" stroke="#231815" stroke-width="1.0"/>
<line x1="117.10" y1="921.20" x2="284.50" y2="921.20" stroke="#231815" stroke-width="1.0"/>
<line x1="117.10" y1="760.20" x2="123.10" y2="760.20" stroke="#231815" stroke-width="1.0"/>
<text x="114.70" y="765.7" font-size="17.8" fill="#231815" stroke="#231815" text-anchor="end">7</text>
<line x1="117.10" y1="800.40" x2="123.10" y2="800.40" stroke="#231815" stroke-width="1.0"/>
<text x="114.70" y="805.9" font-size="17.8" fill="#231815" stroke="#231815" text-anchor="end">6</text>
<line x1="117.10" y1="840.60" x2="123.10" y2="840.60" stroke="#231815" stroke-width="1.0"/>
<text x="114.70" y="846.1" font-size="17.8" fill="#231815" stroke="#231815" text-anchor="end">5</text>
<line x1="117.10" y1="880.80" x2="123.10" y2="880.80" stroke="#231815" stroke-width="1.0"/>
<text x="114.70" y="886.3" font-size="17.8" fill="#231815" stroke="#231815" text-anchor="end">4</text>
<line x1="117.10" y1="921.20" x2="123.10" y2="921.20" stroke="#231815" stroke-width="1.0"/>
<text x="114.70" y="926.7" font-size="17.8" fill="#231815" stroke="#231815" text-anchor="end">3</text>
<line x1="148.00" y1="917.00" x2="148.00" y2="921.20" stroke="#231815" stroke-width="1.0"/>
<line x1="185.00" y1="917.00" x2="185.00" y2="921.20" stroke="#231815" stroke-width="1.0"/>
<line x1="222.60" y1="917.00" x2="222.60" y2="921.20" stroke="#231815" stroke-width="1.0"/>
<line x1="259.70" y1="917.00" x2="259.70" y2="921.20" stroke="#231815" stroke-width="1.0"/>
<text transform="translate(90.9 923.9) rotate(-90)" x="-0.81" y="0" font-size="18.1" fill="#231815" stroke="#231815" textLength="170.6" lengthAdjust="spacingAndGlyphs">Log<tspan font-size="10" dy="0.7">10</tspan><tspan dy="-0.7"> (CFU/g Kidney)</tspan></text>
<path d="M147.8 761.8 V727.6 H259.7 V734.7" stroke="#231815" stroke-width="1.0" fill="none"/>
<text x="184.70" y="723.4" font-size="15.6" fill="#231815" stroke="#231815" textLength="38.1" lengthAdjust="spacingAndGlyphs">0.004</text>
<path d="M222.2 761.0 V753.9 H259.7 V804.0" stroke="#231815" stroke-width="1.0" fill="none"/>
<text x="222.80" y="750.5" font-size="15.6" fill="#231815" stroke="#231815" textLength="36.2" lengthAdjust="spacingAndGlyphs">0.011</text>
</g>
<g id="p6">
<line x1="386.70" y1="805.00" x2="386.70" y2="810.90" stroke="#000" stroke-width="1.12"/>
<line x1="380.50" y1="805.00" x2="392.80" y2="805.00" stroke="#000" stroke-width="1.12"/>
<line x1="380.50" y1="810.90" x2="392.80" y2="810.90" stroke="#000" stroke-width="1.12"/>
<line x1="374.20" y1="807.70" x2="399.10" y2="807.70" stroke="#000" stroke-width="1.12"/>
<circle cx="377.6" cy="809.6" r="3.6" fill="#000"/>
<circle cx="386.8" cy="805.1" r="3.6" fill="#000"/>
<circle cx="395.7" cy="808.8" r="3.6" fill="#000"/>
<line x1="424.00" y1="817.20" x2="424.00" y2="825.90" stroke="#5b5bf2" stroke-width="1.12"/>
<line x1="417.80" y1="817.20" x2="430.20" y2="817.20" stroke="#5b5bf2" stroke-width="1.12"/>
<line x1="417.80" y1="825.90" x2="430.20" y2="825.90" stroke="#5b5bf2" stroke-width="1.12"/>
<line x1="411.50" y1="821.70" x2="436.00" y2="821.70" stroke="#000" stroke-width="1.12"/>
<circle cx="414.9" cy="824.7" r="3.6" fill="#5b5bf2"/>
<circle cx="424.1" cy="821.0" r="3.6" fill="#5b5bf2"/>
<circle cx="433.3" cy="822.9" r="3.6" fill="#5b5bf2"/>
<circle cx="433.3" cy="816.3" r="3.6" fill="#5b5bf2"/>
<line x1="461.10" y1="835.00" x2="461.10" y2="858.40" stroke="#000" stroke-width="1.12"/>
<line x1="454.80" y1="835.00" x2="467.40" y2="835.00" stroke="#000" stroke-width="1.12"/>
<line x1="454.80" y1="858.40" x2="467.40" y2="858.40" stroke="#000" stroke-width="1.12"/>
<line x1="448.50" y1="846.50" x2="474.00" y2="846.50" stroke="#000" stroke-width="1.12"/>
<path d="M461.4 827.1 L465.2 834.8 L457.5 834.8 Z" fill="#000"/>
<path d="M452.2 842.3 L456.1 850.0 L448.3 850.0 Z" fill="#000"/>
<path d="M470.6 848.4 L474.5 856.1 L466.8 856.1 Z" fill="#000"/>
<path d="M452.2 853.6 L456.1 861.3 L448.3 861.3 Z" fill="#000"/>
<line x1="498.30" y1="857.30" x2="498.30" y2="898.80" stroke="#f73c3c" stroke-width="1.12"/>
<line x1="492.40" y1="857.30" x2="504.70" y2="857.30" stroke="#f73c3c" stroke-width="1.12"/>
<line x1="492.40" y1="898.80" x2="504.70" y2="898.80" stroke="#f73c3c" stroke-width="1.12"/>
<line x1="486.10" y1="878.10" x2="511.30" y2="878.10" stroke="#000" stroke-width="1.12"/>
<path d="M489.2 869.1 L493.1 861.4 L485.3 861.4 Z" fill="#f73c3c"/>
<path d="M507.6 871.0 L511.5 863.3 L503.8 863.3 Z" fill="#f73c3c"/>
<path d="M498.4 874.9 L502.2 867.2 L494.5 867.2 Z" fill="#f73c3c"/>
<path d="M498.4 912.5 L502.2 904.8 L494.5 904.8 Z" fill="#f73c3c"/>
<line x1="361.60" y1="759.70" x2="361.60" y2="921.90" stroke="#231815" stroke-width="1.0"/>
<line x1="355.60" y1="921.40" x2="519.50" y2="921.40" stroke="#231815" stroke-width="1.0"/>
<line x1="355.60" y1="760.20" x2="361.60" y2="760.20" stroke="#231815" stroke-width="1.0"/>
<text x="353.20" y="765.7" font-size="17.8" fill="#231815" stroke="#231815" text-anchor="end">8</text>
<line x1="355.60" y1="792.50" x2="361.60" y2="792.50" stroke="#231815" stroke-width="1.0"/>
<text x="353.20" y="798.0" font-size="17.8" fill="#231815" stroke="#231815" text-anchor="end">7</text>
<line x1="355.60" y1="824.70" x2="361.60" y2="824.70" stroke="#231815" stroke-width="1.0"/>
<text x="353.20" y="830.2" font-size="17.8" fill="#231815" stroke="#231815" text-anchor="end">6</text>
<line x1="355.60" y1="857.00" x2="361.60" y2="857.00" stroke="#231815" stroke-width="1.0"/>
<text x="353.20" y="862.5" font-size="17.8" fill="#231815" stroke="#231815" text-anchor="end">5</text>
<line x1="355.60" y1="889.20" x2="361.60" y2="889.20" stroke="#231815" stroke-width="1.0"/>
<text x="353.20" y="894.7" font-size="17.8" fill="#231815" stroke="#231815" text-anchor="end">4</text>
<line x1="355.60" y1="921.40" x2="361.60" y2="921.40" stroke="#231815" stroke-width="1.0"/>
<text x="353.20" y="926.9" font-size="17.8" fill="#231815" stroke="#231815" text-anchor="end">3</text>
<line x1="386.70" y1="917.20" x2="386.70" y2="921.40" stroke="#231815" stroke-width="1.0"/>
<line x1="423.70" y1="917.20" x2="423.70" y2="921.40" stroke="#231815" stroke-width="1.0"/>
<line x1="460.90" y1="917.20" x2="460.90" y2="921.40" stroke="#231815" stroke-width="1.0"/>
<line x1="498.30" y1="917.20" x2="498.30" y2="921.40" stroke="#231815" stroke-width="1.0"/>
<text transform="translate(328.5 924.7) rotate(-90)" x="-0.81" y="0" font-size="18.1" fill="#231815" stroke="#231815" textLength="172.3" lengthAdjust="spacingAndGlyphs">Log<tspan font-size="10" dy="0.7">10</tspan><tspan dy="-0.7"> (CFU/g Spleen)</tspan></text>
<path d="M386.5 770.2 V740.0 H498.4 V745.2" stroke="#231815" stroke-width="1.0" fill="none"/>
<text x="415.50" y="735.0" font-size="15.6" fill="#231815" stroke="#231815" textLength="54.4" lengthAdjust="spacingAndGlyphs">&lt;0.0001</text>
<path d="M423.6 770.2 V764.1 H498.4 V770.2" stroke="#231815" stroke-width="1.0" fill="none"/>
<text x="437.30" y="759.7" font-size="15.6" fill="#231815" stroke="#231815" textLength="46.5" lengthAdjust="spacingAndGlyphs">0.0003</text>
<path d="M386.5 797.0 V790.4 H457.4 V822.4" stroke="#231815" stroke-width="1.0" fill="none"/>
<text x="403.10" y="786.2" font-size="15.6" fill="#231815" stroke="#231815" textLength="37.9" lengthAdjust="spacingAndGlyphs">0.009</text>
<path d="M464.0 822.4 V790.4 H498.4 V851.8" stroke="#231815" stroke-width="1.0" fill="none"/>
<text x="462.30" y="786.2" font-size="15.6" fill="#231815" stroke="#231815" textLength="37.3" lengthAdjust="spacingAndGlyphs">0.021</text>
</g>
<g id="p7">
<line x1="147.70" y1="1011.20" x2="147.70" y2="1023.80" stroke="#000" stroke-width="1.12"/>
<line x1="141.50" y1="1011.20" x2="153.80" y2="1011.20" stroke="#000" stroke-width="1.12"/>
<line x1="141.50" y1="1023.80" x2="153.80" y2="1023.80" stroke="#000" stroke-width="1.12"/>
<line x1="135.50" y1="1018.90" x2="160.50" y2="1018.90" stroke="#000" stroke-width="1.12"/>
<circle cx="147.6" cy="1010.4" r="3.6" fill="#000"/>
<circle cx="138.6" cy="1021.2" r="3.6" fill="#000"/>
<circle cx="157.0" cy="1019.9" r="3.6" fill="#000"/>
<line x1="184.90" y1="1034.80" x2="184.90" y2="1047.30" stroke="#5b5bf2" stroke-width="1.12"/>
<line x1="179.30" y1="1034.80" x2="191.40" y2="1034.80" stroke="#5b5bf2" stroke-width="1.12"/>
<line x1="179.30" y1="1047.30" x2="191.40" y2="1047.30" stroke="#5b5bf2" stroke-width="1.12"/>
<line x1="173.00" y1="1041.10" x2="197.70" y2="1041.10" stroke="#000" stroke-width="1.12"/>
<circle cx="184.9" cy="1032.7" r="3.6" fill="#5b5bf2"/>
<circle cx="175.7" cy="1039.7" r="3.6" fill="#5b5bf2"/>
<circle cx="175.7" cy="1046.8" r="3.6" fill="#5b5bf2"/>
<circle cx="194.1" cy="1045.5" r="3.6" fill="#5b5bf2"/>
<line x1="222.30" y1="1088.30" x2="222.30" y2="1097.30" stroke="#000" stroke-width="1.12"/>
<line x1="216.40" y1="1088.30" x2="228.70" y2="1088.30" stroke="#000" stroke-width="1.12"/>
<line x1="216.40" y1="1097.30" x2="228.70" y2="1097.30" stroke="#000" stroke-width="1.12"/>
<line x1="209.80" y1="1093.30" x2="234.80" y2="1093.30" stroke="#000" stroke-width="1.12"/>
<path d="M213.0 1086.0 L216.8 1093.7 L209.2 1093.7 Z" fill="#000"/>
<path d="M230.8 1086.8 L234.7 1094.5 L227.0 1094.5 Z" fill="#000"/>
<path d="M222.2 1088.1 L226.0 1095.8 L218.3 1095.8 Z" fill="#000"/>
<path d="M222.2 1094.6 L226.0 1102.3 L218.3 1102.3 Z" fill="#000"/>
<line x1="259.70" y1="1108.00" x2="259.70" y2="1120.40" stroke="#f73c3c" stroke-width="1.12"/>
<line x1="253.70" y1="1108.00" x2="266.00" y2="1108.00" stroke="#f73c3c" stroke-width="1.12"/>
<line x1="253.70" y1="1120.40" x2="266.00" y2="1120.40" stroke="#f73c3c" stroke-width="1.12"/>
<line x1="247.10" y1="1114.30" x2="272.10" y2="1114.30" stroke="#000" stroke-width="1.12"/>
<path d="M259.5 1109.6 L263.4 1101.9 L255.7 1101.9 Z" fill="#f73c3c"/>
<path d="M250.3 1117.5 L254.2 1109.8 L246.5 1109.8 Z" fill="#f73c3c"/>
<path d="M268.2 1121.2 L272.1 1113.5 L264.3 1113.5 Z" fill="#f73c3c"/>
<path d="M250.3 1124.6 L254.2 1116.9 L246.5 1116.9 Z" fill="#f73c3c"/>
<line x1="122.90" y1="1001.00" x2="122.90" y2="1163.00" stroke="#231815" stroke-width="1.0"/>
<line x1="116.90" y1="1162.50" x2="284.50" y2="1162.50" stroke="#231815" stroke-width="1.0"/>
<line x1="116.90" y1="1001.50" x2="122.90" y2="1001.50" stroke="#231815" stroke-width="1.0"/>
<text x="114.50" y="1007.0" font-size="17.8" fill="#231815" stroke="#231815" text-anchor="end">7</text>
<line x1="116.90" y1="1041.70" x2="122.90" y2="1041.70" stroke="#231815" stroke-width="1.0"/>
<text x="114.50" y="1047.2" font-size="17.8" fill="#231815" stroke="#231815" text-anchor="end">6</text>
<line x1="116.90" y1="1082.00" x2="122.90" y2="1082.00" stroke="#231815" stroke-width="1.0"/>
<text x="114.50" y="1087.5" font-size="17.8" fill="#231815" stroke="#231815" text-anchor="end">5</text>
<line x1="116.90" y1="1122.20" x2="122.90" y2="1122.20" stroke="#231815" stroke-width="1.0"/>
<text x="114.50" y="1127.7" font-size="17.8" fill="#231815" stroke="#231815" text-anchor="end">4</text>
<line x1="116.90" y1="1162.50" x2="122.90" y2="1162.50" stroke="#231815" stroke-width="1.0"/>
<text x="114.50" y="1168.0" font-size="17.8" fill="#231815" stroke="#231815" text-anchor="end">3</text>
<line x1="147.70" y1="1158.30" x2="147.70" y2="1162.50" stroke="#231815" stroke-width="1.0"/>
<line x1="184.90" y1="1158.30" x2="184.90" y2="1162.50" stroke="#231815" stroke-width="1.0"/>
<line x1="222.30" y1="1158.30" x2="222.30" y2="1162.50" stroke="#231815" stroke-width="1.0"/>
<line x1="259.70" y1="1158.30" x2="259.70" y2="1162.50" stroke="#231815" stroke-width="1.0"/>
<text transform="translate(91.3 1157.2) rotate(-90)" x="-0.81" y="0" font-size="18.1" fill="#231815" stroke="#231815" textLength="155.2" lengthAdjust="spacingAndGlyphs">Log<tspan font-size="10" dy="0.7">10</tspan><tspan dy="-0.7"> (CFU/g Liver)</tspan></text>
<path d="M147.6 954.7 V947.3 H259.7 V978.4" stroke="#231815" stroke-width="1.0" fill="none"/>
<text x="175.50" y="944.5" font-size="15.6" fill="#231815" stroke="#231815" textLength="54.6" lengthAdjust="spacingAndGlyphs">&lt;0.0001</text>
<path d="M147.6 980.2 V972.6 H227.4 V980.2" stroke="#231815" stroke-width="1.0" fill="none"/>
<text x="157.10" y="966.5" font-size="15.6" fill="#231815" stroke="#231815" textLength="53.9" lengthAdjust="spacingAndGlyphs">&lt;0.0001</text>
<path d="M147.6 1001.2 V999.4 H180.7 V1027.0" stroke="#231815" stroke-width="1.0" fill="none"/>
<text x="144.50" y="995.4" font-size="15.6" fill="#231815" stroke="#231815" textLength="36.8" lengthAdjust="spacingAndGlyphs">0.001</text>
<path d="M188.5 1027.0 V999.4 H259.7 V1053.4" stroke="#231815" stroke-width="1.0" fill="none"/>
<text x="197.00" y="995.4" font-size="15.6" fill="#231815" stroke="#231815" textLength="53.9" lengthAdjust="spacingAndGlyphs">&lt;0.0001</text>
<path d="M222.2 1082.3 V1073.6 H259.7 V1102.0" stroke="#231815" stroke-width="1.0" fill="none"/>
<text x="222.00" y="1069.7" font-size="15.6" fill="#231815" stroke="#231815" textLength="37.0" lengthAdjust="spacingAndGlyphs">0.001</text>
</g>
<g id="p8">
<line x1="386.70" y1="1011.70" x2="386.70" y2="1050.20" stroke="#000" stroke-width="1.12"/>
<line x1="380.50" y1="1011.70" x2="392.80" y2="1011.70" stroke="#000" stroke-width="1.12"/>
<line x1="380.50" y1="1050.20" x2="392.80" y2="1050.20" stroke="#000" stroke-width="1.12"/>
<line x1="374.20" y1="1031.20" x2="399.10" y2="1031.20" stroke="#000" stroke-width="1.12"/>
<circle cx="377.6" cy="1017.8" r="3.6" fill="#000"/>
<circle cx="395.7" cy="1022.2" r="3.6" fill="#000"/>
<circle cx="386.8" cy="1053.9" r="3.6" fill="#000"/>
<line x1="424.00" y1="1068.60" x2="424.00" y2="1078.40" stroke="#5b5bf2" stroke-width="1.12"/>
<line x1="418.00" y1="1068.60" x2="430.10" y2="1068.60" stroke="#5b5bf2" stroke-width="1.12"/>
<line x1="418.00" y1="1078.40" x2="430.10" y2="1078.40" stroke="#5b5bf2" stroke-width="1.12"/>
<line x1="411.50" y1="1073.60" x2="436.00" y2="1073.60" stroke="#000" stroke-width="1.12"/>
<circle cx="433.3" cy="1067.6" r="3.6" fill="#5b5bf2"/>
<circle cx="424.1" cy="1073.6" r="3.6" fill="#5b5bf2"/>
<circle cx="433.3" cy="1074.9" r="3.6" fill="#5b5bf2"/>
<circle cx="414.9" cy="1079.1" r="3.6" fill="#5b5bf2"/>
<line x1="461.10" y1="1068.60" x2="461.10" y2="1098.30" stroke="#000" stroke-width="1.12"/>
<line x1="454.80" y1="1068.60" x2="467.40" y2="1068.60" stroke="#000" stroke-width="1.12"/>
<line x1="454.80" y1="1098.30" x2="467.40" y2="1098.30" stroke="#000" stroke-width="1.12"/>
<line x1="449.00" y1="1083.60" x2="474.00" y2="1083.60" stroke="#000" stroke-width="1.12"/>
<path d="M470.6 1068.1 L474.5 1075.8 L466.8 1075.8 Z" fill="#000"/>
<path d="M452.2 1072.8 L456.1 1080.5 L448.3 1080.5 Z" fill="#000"/>
<path d="M470.6 1077.6 L474.5 1085.3 L466.8 1085.3 Z" fill="#000"/>
<path d="M461.4 1101.0 L465.2 1108.7 L457.5 1108.7 Z" fill="#000"/>
<line x1="498.30" y1="1110.70" x2="498.30" y2="1140.10" stroke="#f73c3c" stroke-width="1.12"/>
<line x1="492.40" y1="1110.70" x2="504.70" y2="1110.70" stroke="#f73c3c" stroke-width="1.12"/>
<line x1="492.40" y1="1140.10" x2="504.70" y2="1140.10" stroke="#f73c3c" stroke-width="1.12"/>
<line x1="486.10" y1="1125.10" x2="511.30" y2="1125.10" stroke="#000" stroke-width="1.12"/>
<path d="M498.4 1109.6 L502.2 1101.9 L494.5 1101.9 Z" fill="#f73c3c"/>
<path d="M498.4 1125.4 L502.2 1117.7 L494.5 1117.7 Z" fill="#f73c3c"/>
<path d="M507.6 1138.5 L511.5 1130.8 L503.8 1130.8 Z" fill="#f73c3c"/>
<path d="M489.2 1141.7 L493.1 1134.0 L485.3 1134.0 Z" fill="#f73c3c"/>
<line x1="361.60" y1="1000.70" x2="361.60" y2="1163.10" stroke="#231815" stroke-width="1.0"/>
<line x1="355.60" y1="1162.60" x2="519.50" y2="1162.60" stroke="#231815" stroke-width="1.0"/>
<line x1="355.60" y1="1001.20" x2="361.60" y2="1001.20" stroke="#231815" stroke-width="1.0"/>
<text x="353.20" y="1006.7" font-size="17.8" fill="#231815" stroke="#231815" text-anchor="end">6.0</text>
<line x1="355.60" y1="1028.10" x2="361.60" y2="1028.10" stroke="#231815" stroke-width="1.0"/>
<text x="353.20" y="1033.6" font-size="17.8" fill="#231815" stroke="#231815" text-anchor="end">5.5</text>
<line x1="355.60" y1="1055.00" x2="361.60" y2="1055.00" stroke="#231815" stroke-width="1.0"/>
<text x="353.20" y="1060.5" font-size="17.8" fill="#231815" stroke="#231815" text-anchor="end">5.0</text>
<line x1="355.60" y1="1081.90" x2="361.60" y2="1081.90" stroke="#231815" stroke-width="1.0"/>
<text x="353.20" y="1087.4" font-size="17.8" fill="#231815" stroke="#231815" text-anchor="end">4.5</text>
<line x1="355.60" y1="1108.80" x2="361.60" y2="1108.80" stroke="#231815" stroke-width="1.0"/>
<text x="353.20" y="1114.3" font-size="17.8" fill="#231815" stroke="#231815" text-anchor="end">4.0</text>
<line x1="355.60" y1="1135.70" x2="361.60" y2="1135.70" stroke="#231815" stroke-width="1.0"/>
<text x="353.20" y="1141.2" font-size="17.8" fill="#231815" stroke="#231815" text-anchor="end">3.5</text>
<line x1="355.60" y1="1162.60" x2="361.60" y2="1162.60" stroke="#231815" stroke-width="1.0"/>
<text x="353.20" y="1168.1" font-size="17.8" fill="#231815" stroke="#231815" text-anchor="end">3.0</text>
<line x1="386.70" y1="1158.40" x2="386.70" y2="1162.60" stroke="#231815" stroke-width="1.0"/>
<line x1="423.70" y1="1158.40" x2="423.70" y2="1162.60" stroke="#231815" stroke-width="1.0"/>
<line x1="460.90" y1="1158.40" x2="460.90" y2="1162.60" stroke="#231815" stroke-width="1.0"/>
<line x1="498.30" y1="1158.40" x2="498.30" y2="1162.60" stroke="#231815" stroke-width="1.0"/>
<text transform="translate(320.4 1156.4) rotate(-90)" x="-0.81" y="0" font-size="18.1" fill="#231815" stroke="#231815" textLength="157.2" lengthAdjust="spacingAndGlyphs">Log<tspan font-size="10" dy="0.7">10</tspan><tspan dy="-0.7"> (CFU/g Lung)</tspan></text>
<path d="M386.5 966.5 V961.3 H498.4 V1014.6" stroke="#231815" stroke-width="1.0" fill="none"/>
<text x="415.50" y="958.1" font-size="15.6" fill="#231815" stroke="#231815" textLength="54.4" lengthAdjust="spacingAndGlyphs">&lt;0.0001</text>
<path d="M386.5 986.2 V982.8 H460.9 V1014.6" stroke="#231815" stroke-width="1.0" fill="none"/>
<text x="405.50" y="978.9" font-size="15.6" fill="#231815" stroke="#231815" textLength="38.1" lengthAdjust="spacingAndGlyphs">0.002</text>
<path d="M386.5 1008.0 V1004.1 H424.6 V1015.1" stroke="#231815" stroke-width="1.0" fill="none"/>
<text x="386.60" y="1000.2" font-size="15.6" fill="#231815" stroke="#231815" textLength="38.1" lengthAdjust="spacingAndGlyphs">0.009</text>
<path d="M424.6 1059.2 V1033.5 H498.4 V1038.4" stroke="#231815" stroke-width="1.0" fill="none"/>
<text x="445.70" y="1030.1" font-size="15.6" fill="#231815" stroke="#231815" textLength="36.8" lengthAdjust="spacingAndGlyphs">0.001</text>
<path d="M460.9 1066.5 V1060.2 H498.4 V1096.7" stroke="#231815" stroke-width="1.0" fill="none"/>
<text x="460.70" y="1055.2" font-size="15.6" fill="#231815" stroke="#231815" textLength="38.3" lengthAdjust="spacingAndGlyphs">0.006</text>
</g>
<path d="M61.0 382.6 H49.4 V613.3 H61.0" stroke="#231815" stroke-width="1.0" fill="none"/>
<text transform="translate(41.7 536.5) rotate(-90)" x="-0.80" y="0" font-size="17.7" fill="#231815" stroke="#231815" textLength="63.3" lengthAdjust="spacingAndGlyphs">4 doses</text>
<path d="M65.5 828.2 H54.0 V1084.8 H65.5" stroke="#231815" stroke-width="1.0" fill="none"/>
<text transform="translate(43.7 978.3) rotate(-90)" x="-0.80" y="0" font-size="17.7" fill="#231815" stroke="#231815" textLength="63.5" lengthAdjust="spacingAndGlyphs">8 doses</text>
<circle cx="535.7" cy="320.8" r="3.6" fill="#000"/>
<text x="547.59" y="325.8" font-size="17.9" fill="#231815" stroke="#231815" textLength="64.0" lengthAdjust="spacingAndGlyphs">yCB799</text>
<circle cx="535.7" cy="342.7" r="3.6" fill="#5b5bf2"/>
<text x="547.59" y="347.5" font-size="17.9" fill="#231815" stroke="#231815" textLength="126.0" lengthAdjust="spacingAndGlyphs">yCB799 treated</text>
<path d="M535.7 360.6 L539.6 368.3 L531.9 368.3 Z" fill="#000"/>
<path d="M535.7 391.0 L539.6 383.3 L531.9 383.3 Z" fill="#f73c3c"/>
<text x="547.59" y="369.4" font-size="17.9" fill="#231815" stroke="#231815" textLength="67.3" lengthAdjust="spacingAndGlyphs"><tspan font-style="italic">gcn5</tspan>Δ-2</text>
<text x="547.59" y="391.6" font-size="17.9" fill="#231815" stroke="#231815" textLength="128.3" lengthAdjust="spacingAndGlyphs"><tspan font-style="italic">gcn5</tspan>Δ-2 treated</text>
</g>
</svg>
</body>
</html>
